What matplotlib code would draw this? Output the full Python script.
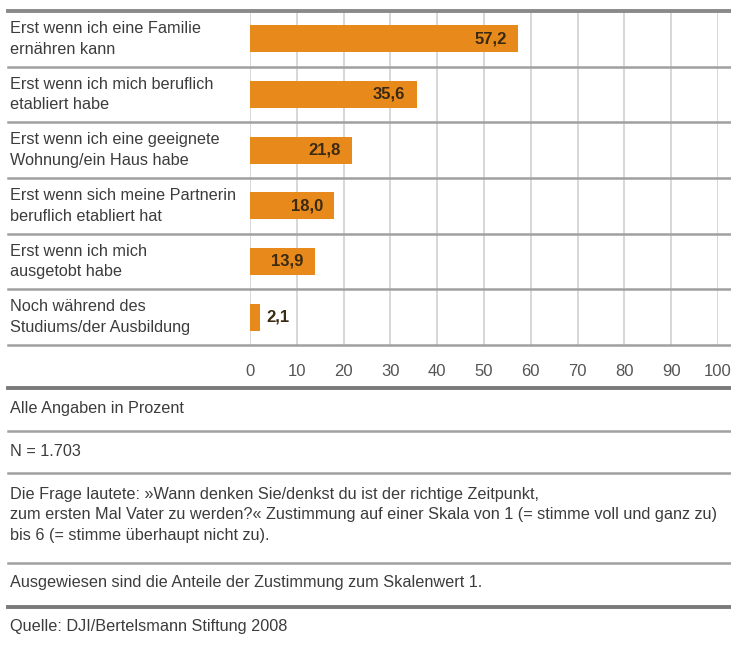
import matplotlib.pyplot as plt
import matplotlib.transforms as mtransforms
from matplotlib.lines import Line2D

labels = ["Erst wenn ich eine Familie\nernähren kann",
          "Erst wenn ich mich beruflich\netabliert habe",
          "Erst wenn ich eine geeignete\nWohnung/ein Haus habe",
          "Erst wenn sich meine Partnerin\nberuflich etabliert hat",
          "Erst wenn ich mich\nausgetobt habe",
          "Noch während des\nStudiums/der Ausbildung"]
values = [57.2, 35.6, 21.8, 18.0, 13.9, 2.1]
ticks = [0, 10, 20, 30, 40, 50, 60, 70, 80, 90, 100]

notes = ["Alle Angaben in Prozent",
         "N = 1.703",
         "Die Frage lautete: »Wann denken Sie/denkst du ist der richtige Zeitpunkt,\n"
         "zum ersten Mal Vater zu werden?« Zustimmung auf einer Skala von 1 (= stimme voll und ganz zu)\n"
         "bis 6 (= stimme überhaupt nicht zu).",
         "Ausgewiesen sind die Anteile der Zustimmung zum Skalenwert 1.",
         "Quelle: DJI/Bertelsmann Stiftung 2008"]

plt.rcParams['font.family'] = ['Liberation Sans', 'DejaVu Sans']
W, H = 731, 646
orange = '#e8891c'
txt = '#3c3c3c'
fs = 11.7

fig = plt.figure(figsize=(W / 100, H / 100), dpi=100)
ax = fig.add_axes([250 / W, 1 - 345 / H, 468 / W, 334 / H])

n = len(values)
ypos = list(range(n))
ax.barh(ypos, values, height=0.49, color=orange, zorder=3)
ax.set_xlim(0, 100)
ax.set_ylim(n - 0.5, -0.5)

for x in ticks:
    ax.axvline(x, color='#d4d4d4', lw=1.3, zorder=1)

for i, v in enumerate(values):
    s = f"{v:.1f}".replace('.', ',')
    if v > 8:
        ax.text(v - 2.4, i, s, ha='right', va='center', fontsize=12,
                fontweight='bold', color='#3a2a12', zorder=4)
    else:
        ax.text(v + 1.5, i, s, ha='left', va='center', fontsize=12,
                fontweight='bold', color='#3a2a12', zorder=4)

ax.set_xticks(ticks)
ax.set_xticklabels([str(t) for t in ticks])
ax.tick_params(axis='x', length=0, pad=14, labelsize=12, labelcolor='#555555')
ax.set_yticks([])
for sp in ax.spines.values():
    sp.set_visible(False)

# row labels and separators spanning the whole width
tr = mtransforms.blended_transform_factory(fig.transFigure, ax.transData)
for i, lab in enumerate(labels):
    ax.text(10 / W, i, lab, transform=tr, ha='left', va='center',
            fontsize=fs, color=txt, linespacing=1.45)
for k in range(n + 1):
    yk = k - 0.5
    lw = 2.8 if k == 0 else 1.8
    col = '#8a8a8a' if k == 0 else '#a0a0a0'
    ax.add_line(Line2D([8 / W, 1.0], [yk, yk], transform=tr, color=col,
                       lw=lw, clip_on=False, zorder=5))

# footer lines and notes
def hline(ypx, lw, col):
    fig.add_artist(Line2D([8 / W, 1.0], [1 - ypx / H, 1 - ypx / H],
                          transform=fig.transFigure, color=col, lw=lw))

hline(388, 2.8, '#7a7a7a')
hline(431, 1.8, '#a0a0a0')
hline(473, 1.8, '#a0a0a0')
hline(563, 1.8, '#a0a0a0')
hline(607, 2.8, '#7a7a7a')

note_y = [408, 452, 515, 583, 626]
for t, ypx in zip(notes, note_y):
    fig.text(10 / W, 1 - ypx / H, t, ha='left', va='center', fontsize=fs,
             color=txt, linespacing=1.45)

fig.savefig('out.png', dpi=100)
